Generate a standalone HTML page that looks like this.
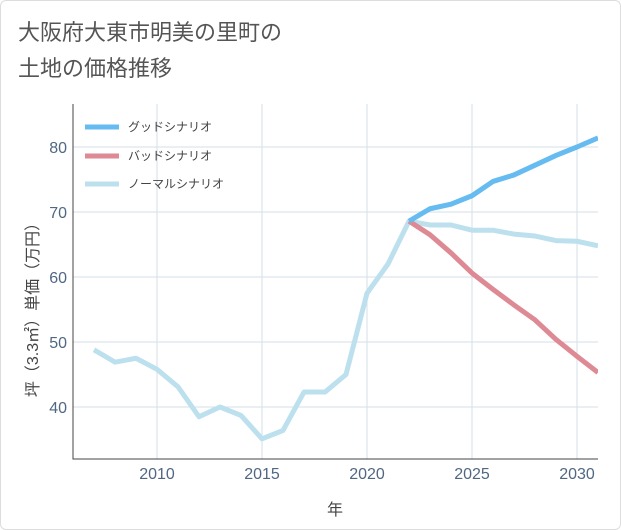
<!DOCTYPE html>
<html><head><meta charset="utf-8"><style>
body{margin:0;background:#fff;font-family:"Liberation Sans","Noto Sans CJK JP",sans-serif;}
#wrap{position:relative;width:619px;height:528px;border:1px solid #ddd;border-radius:6px;overflow:hidden;}
#title{position:absolute;left:17px;top:14px;font-size:22px;line-height:36px;color:#555;}
svg text{font-family:"Liberation Sans","Noto Sans CJK JP",sans-serif;}
</style></head><body>
<div id="wrap">
<div id="title">大阪府大東市明美の里町の<br>土地の価格推移</div>
<svg id="chart" width="621" height="530" style="position:absolute;left:0;top:0"></svg>
</div>
<script>
const years=[2007,2008,2009,2010,2011,2012,2013,2014,2015,2016,2017,2018,2019,2020,2021,2022,2023,2024,2025,2026,2027,2028,2029,2030,2031];
const normalVals=[48.8,46.9,47.5,45.8,43.1,38.5,40,38.7,35.1,36.4,42.3,42.3,45,57.5,62,68.6,68,68,67.2,67.2,66.6,66.3,65.6,65.5,64.8];
const goodYears=[2022,2023,2024,2025,2026,2027,2028,2029,2030,2031];
const goodVals=[68.6,70.5,71.2,72.5,74.7,75.7,77.2,78.7,80,81.4];
const badVals=[68.6,66.5,63.7,60.6,58.1,55.7,53.4,50.4,47.8,45.3];
const xTicks=[2010,2015,2020,2025,2030];
const yTicks=[40,50,60,70,80];
const NS="http://www.w3.org/2000/svg";
const svg=document.getElementById('chart');
const L=72,R=597,T=103,B=458;
const x=v=>156+(v-2010)*21;
const y=v=>146+(80-v)*6.5;
function mk(t,a){const e=document.createElementNS(NS,t);for(const k in a)e.setAttribute(k,a[k]);svg.appendChild(e);return e;}
xTicks.forEach(t=>{
 const g=mk('line',{x1:x(t),x2:x(t),y1:T,y2:B,stroke:'#d5dfe8','stroke-width':1});
 
 
 const tx=mk('text',{x:x(t),y:478,'text-anchor':'middle','font-size':16,fill:'#506784'});tx.textContent=t;
 
 
});
yTicks.forEach(t=>{
 const g=mk('line',{x1:L,x2:R,y1:y(t),y2:y(t),stroke:'#d5dfe8','stroke-width':1});
 
 
 const tx=mk('text',{x:66,y:y(t)+6,'text-anchor':'end','font-size':16,fill:'#506784'});tx.textContent=t;
 
 
});
const ax=mk('path',{d:`M${L} ${T}V${B}H${R}`,fill:'none',stroke:'#444','stroke-width':1});


function line(xs,vs,color,name){
 const p=mk('polyline',{points:xs.map((v,i)=>x(v)+','+y(vs[i])).join(' '),fill:'none',stroke:color,'stroke-width':5,'stroke-linejoin':'round'});
 
 
}
const cp=mk('clipPath',{id:'cp'});const cr=document.createElementNS(NS,'rect');
cr.setAttribute('x',L);cr.setAttribute('y',T);cr.setAttribute('width',R-L);cr.setAttribute('height',B-T);cp.appendChild(cr);
line(years,normalVals,'#bde0ee','normal-scenario-line');
line(goodYears,badVals,'#de8a94','bad-scenario-line');
line(goodYears,goodVals,'#66bbf0','good-scenario-line');
svg.querySelectorAll('polyline').forEach(p=>p.setAttribute('clip-path','url(#cp)'));
const leg=[['グッドシナリオ','#66bbf0',126],['バッドシナリオ','#de8a94',155],['ノーマルシナリオ','#bde0ee',183]];
leg.forEach(([n,c,yy])=>{
 const l=mk('line',{x1:84,x2:118,y1:yy,y2:yy,stroke:c,'stroke-width':5});
 
 
 const t=mk('text',{x:127,y:yy+4,'font-size':12,fill:'#444'});t.textContent=n;
 
 
});
const xt=mk('text',{x:334,y:514,'text-anchor':'middle','font-size':16,fill:'#444'});xt.textContent='年';


const yt=mk('text',{x:0,y:0,'text-anchor':'middle','font-size':16,fill:'#444',transform:'translate(37,305) rotate(-90)'});yt.textContent='坪（3.3㎡）単価（万円）';


</script>
</body></html>
